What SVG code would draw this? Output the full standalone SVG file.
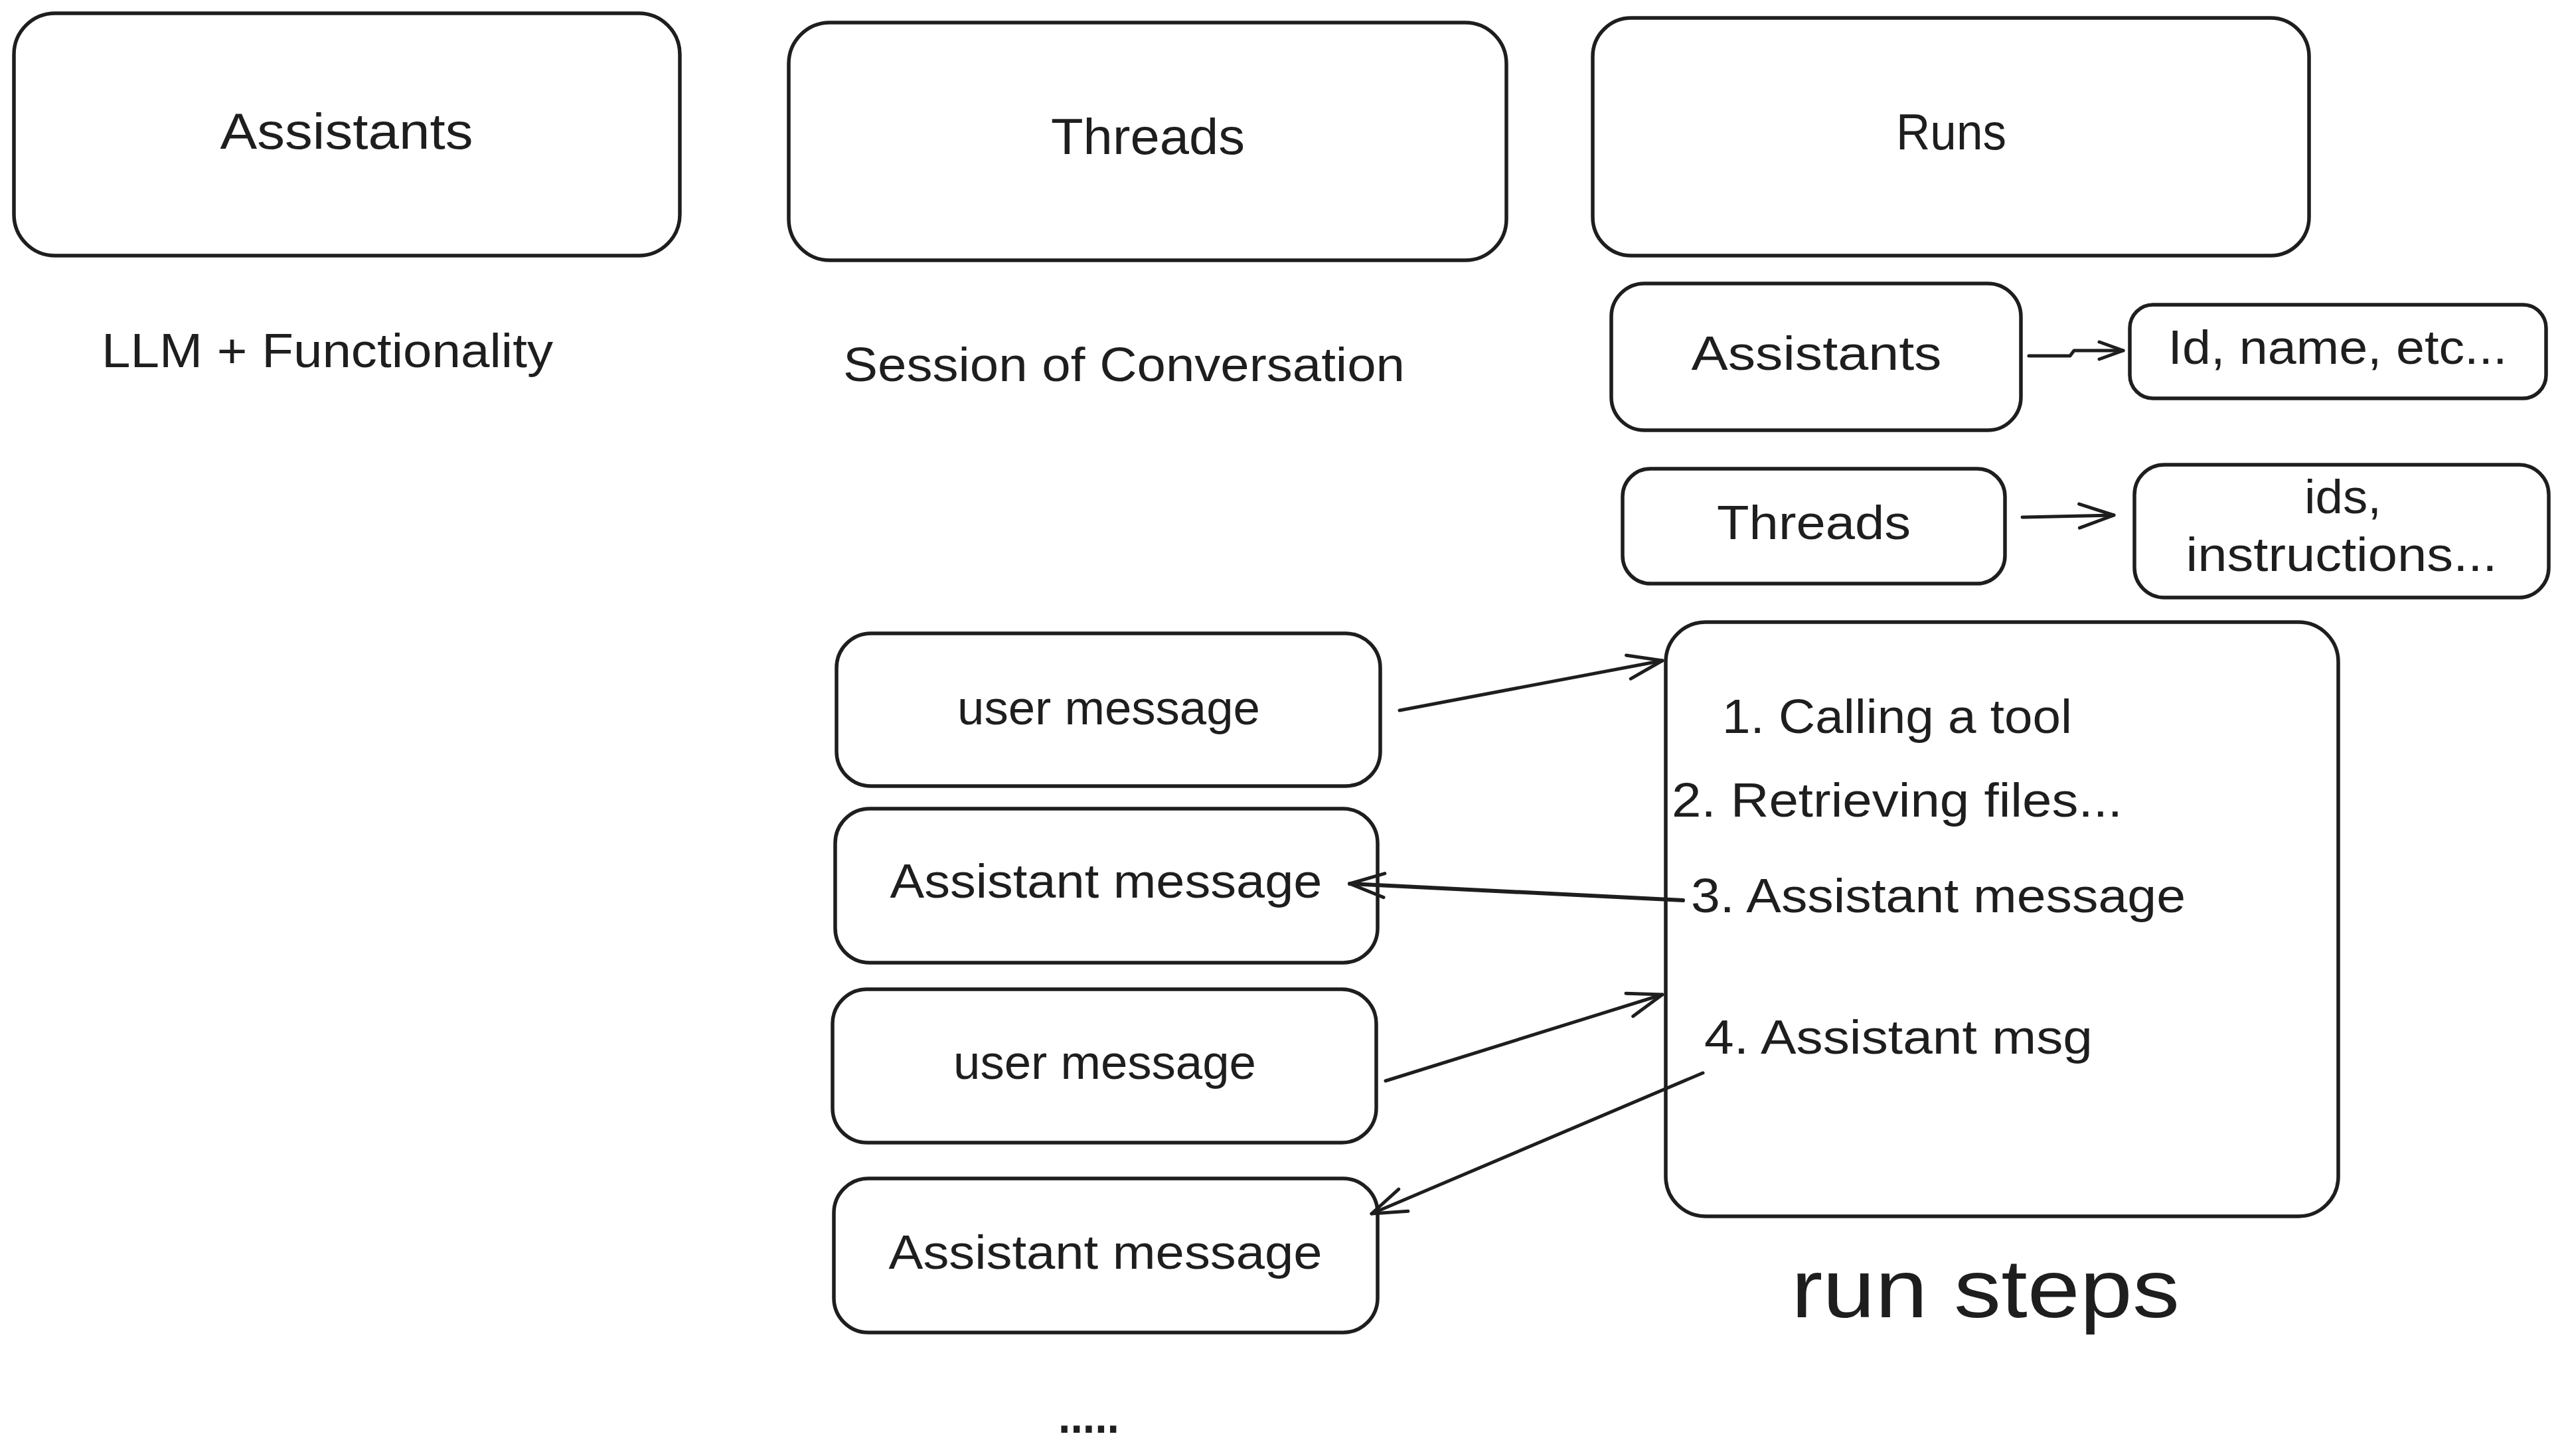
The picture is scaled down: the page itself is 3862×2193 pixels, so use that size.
<svg xmlns="http://www.w3.org/2000/svg" width="3862" height="2193" viewBox="0 0 3862 2193">
<style>
.box{fill:none;stroke:#1e1e1e;stroke-width:5.5}
.t{font-family:"Liberation Sans","DejaVu Sans",sans-serif;font-size:72px;fill:#1e1e1e}
.m{text-anchor:middle}
.c{fill:none;stroke:#1e1e1e;stroke-width:5;stroke-linecap:round;stroke-linejoin:round}
</style>
<defs>
<marker id="ah" markerUnits="userSpaceOnUse" viewBox="-60 -30 70 60" markerWidth="70" markerHeight="60" refX="0" refY="0" orient="auto" overflow="visible">
<path d="M-52,-18 L0,0 L-52,18" fill="none" stroke="#1e1e1e" stroke-width="5" stroke-linecap="round" stroke-linejoin="round"/>
</marker>
<marker id="ahs" markerUnits="userSpaceOnUse" viewBox="-60 -30 70 60" markerWidth="70" markerHeight="60" refX="0" refY="0" orient="auto" overflow="visible">
<path d="M-36,-13 L0,0 L-36,13" fill="none" stroke="#1e1e1e" stroke-width="5" stroke-linecap="round" stroke-linejoin="round"/>
</marker>
</defs>
<rect width="3862" height="2193" fill="#ffffff"/>

<g id="assistants">
<rect class="box" x="21" y="20" width="1003" height="365" rx="62"/>
<text class="t m" x="522" y="224" textLength="381" lengthAdjust="spacingAndGlyphs" style="font-size:76px">Assistants</text>
</g>
<g id="threads">
<rect class="box" x="1188" y="34" width="1081" height="358" rx="62"/>
<text class="t m" x="1729" y="232" textLength="292" lengthAdjust="spacingAndGlyphs" style="font-size:76px">Threads</text>
</g>
<g id="runs">
<rect class="box" x="2399" y="27" width="1079" height="358" rx="58"/>
<text class="t m" x="2939" y="225" textLength="166" lengthAdjust="spacingAndGlyphs" style="font-size:76px">Runs</text>
</g>
<g id="label-llm">
<text class="t" x="153" y="553" textLength="680" lengthAdjust="spacingAndGlyphs">LLM + Functionality</text>
</g>
<g id="label-session">
<text class="t" x="1270" y="574" textLength="846" lengthAdjust="spacingAndGlyphs">Session of Conversation</text>
</g>
<g id="runs-assistants">
<rect class="box" x="2427" y="427" width="617" height="221" rx="50"/>
<text class="t m" x="2736" y="557" textLength="377" lengthAdjust="spacingAndGlyphs">Assistants</text>
</g>
<g id="id-name">
<rect class="box" x="3208" y="459" width="627" height="141" rx="35"/>
<text class="t m" x="3521" y="548" textLength="511" lengthAdjust="spacingAndGlyphs">Id, name, etc...</text>
</g>
<g id="runs-threads">
<rect class="box" x="2444" y="706" width="576" height="173" rx="42"/>
<text class="t m" x="2732" y="812" textLength="292" lengthAdjust="spacingAndGlyphs">Threads</text>
</g>
<g id="ids-instructions">
<rect class="box" x="3215" y="700" width="624" height="200" rx="45"/>
<text class="t m" x="3529" y="773" textLength="116" lengthAdjust="spacingAndGlyphs">ids,</text>
<text class="t m" x="3527" y="860" textLength="469" lengthAdjust="spacingAndGlyphs">instructions...</text>
</g>
<g id="user-message-1">
<rect class="box" x="1260" y="954" width="819" height="230" rx="52"/>
<text class="t m" x="1670" y="1091" textLength="456" lengthAdjust="spacingAndGlyphs">user message</text>
</g>
<g id="assistant-message-1">
<rect class="box" x="1258" y="1218" width="817" height="232" rx="52"/>
<text class="t m" x="1666" y="1352" textLength="651" lengthAdjust="spacingAndGlyphs">Assistant message</text>
</g>
<g id="user-message-2">
<rect class="box" x="1254" y="1490" width="819" height="231" rx="52"/>
<text class="t m" x="1664" y="1625" textLength="456" lengthAdjust="spacingAndGlyphs">user message</text>
</g>
<g id="assistant-message-2">
<rect class="box" x="1256" y="1775" width="819" height="232" rx="52"/>
<text class="t m" x="1665" y="1911" textLength="653" lengthAdjust="spacingAndGlyphs">Assistant message</text>
</g>
<g id="ellipsis">
<text class="t" x="1594" y="2158" textLength="92" lengthAdjust="spacingAndGlyphs" style="font-weight:bold">.....</text>
</g>
<g id="run-steps">
<rect class="box" x="2509" y="937" width="1013" height="895" rx="60"/>
<text class="t" x="2594" y="1104" textLength="527" lengthAdjust="spacingAndGlyphs">1. Calling a tool</text>
<text class="t" x="2518" y="1230" textLength="679" lengthAdjust="spacingAndGlyphs">2. Retrieving files...</text>
<text class="t" x="2547" y="1374" textLength="745" lengthAdjust="spacingAndGlyphs">3. Assistant message</text>
<text class="t" x="2567" y="1587" textLength="585" lengthAdjust="spacingAndGlyphs">4. Assistant msg</text>
</g>
<g id="label-run-steps">
<text class="t" x="2698" y="1984" textLength="585" lengthAdjust="spacingAndGlyphs" style="font-size:124px">run steps</text>
</g>

<g id="connectors">
<path class="c" d="M3056,536 L3118,536 L3124,528 L3198,528" marker-end="url(#ahs)"/>
<path class="c" d="M3046,779 L3184,776" marker-end="url(#ah)"/>
<path class="c" d="M2108,1070 L2504,995" marker-end="url(#ah)"/>
<path class="c" d="M2535,1356 L2033,1331" marker-end="url(#ah)" style="stroke-width:6"/>
<path class="c" d="M2087,1628 L2504,1498" marker-end="url(#ah)"/>
<path class="c" d="M2565,1616 L2066,1828" marker-end="url(#ah)"/>
</g>
</svg>
